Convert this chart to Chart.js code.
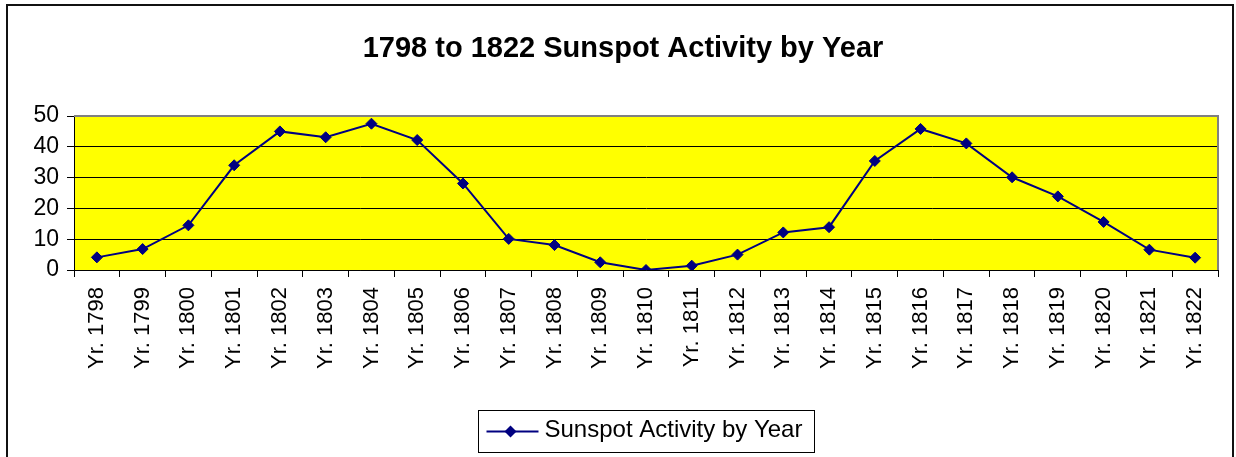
<!DOCTYPE html>
<html><head><meta charset="utf-8">
<script src="https://cdn.jsdelivr.net/npm/chart.js@4/dist/chart.umd.min.js"></script>
<style>html,body{margin:0;padding:0;background:#fff;}#wrap{width:1236px;height:457px;}</style>
</head><body><div id="wrap"><canvas id="c" width="1236" height="457"></canvas></div>
<script>
const categories = ['Yr. 1798','Yr. 1799','Yr. 1800','Yr. 1801','Yr. 1802','Yr. 1803','Yr. 1804','Yr. 1805','Yr. 1806','Yr. 1807','Yr. 1808','Yr. 1809','Yr. 1810','Yr. 1811','Yr. 1812','Yr. 1813','Yr. 1814','Yr. 1815','Yr. 1816','Yr. 1817','Yr. 1818','Yr. 1819','Yr. 1820','Yr. 1821','Yr. 1822'];
const sunspots = [4.1, 6.8, 14.5, 34.0, 45.0, 43.1, 47.5, 42.2, 28.1, 10.1, 8.1, 2.5, 0.0, 1.4, 5.0, 12.2, 13.9, 35.4, 45.8, 41.1, 30.1, 23.9, 15.6, 6.6, 4.0];
const yTicks = [0, 10, 20, 30, 40, 50];
const chartTitle = '1798 to 1822 Sunspot Activity by Year';
const seriesName = 'Sunspot Activity by Year';

const FONT = '"Liberation Sans", Arial, sans-serif';
const NAVY = '#000080';

const decor = {
  id: 'decor',
  beforeDraw(chart) {
    const {ctx, chartArea: a} = chart;
    ctx.save();
    ctx.fillStyle = '#fff';
    ctx.fillRect(0, 0, chart.width, chart.height);
    ctx.fillStyle = '#ffff00';
    ctx.fillRect(a.left, a.top, a.right - a.left, a.bottom - a.top);
    ctx.restore();
  },
  beforeDatasetsDraw(chart) {
    const {ctx, chartArea: a} = chart;
    ctx.save();
    ctx.strokeStyle = '#808080';
    ctx.lineWidth = 2;
    ctx.beginPath();
    ctx.moveTo(a.left, a.top);
    ctx.lineTo(a.right, a.top);
    ctx.lineTo(a.right, a.bottom);
    ctx.stroke();
    ctx.restore();
  },
  afterDraw(chart) {
    const {ctx, chartArea: a} = chart;
    ctx.save();
    // outer frame
    ctx.strokeStyle = '#111';
    ctx.lineWidth = 2;
    ctx.strokeRect(7, 5, 1226, 480);
    // title
    ctx.fillStyle = '#000';
    ctx.font = 'bold 29px ' + FONT;
    ctx.textAlign = 'center';
    ctx.textBaseline = 'alphabetic';
    ctx.fillText(chartTitle, 623, 57);
    // legend
    const cx = (a.left + a.right) / 2;
    const bw = 336, bh = 42;
    const bx = Math.round(cx - bw / 2) + 0.5, by = 410.5;
    ctx.strokeStyle = '#000';
    ctx.lineWidth = 1;
    ctx.strokeRect(bx, by, bw, bh);
    const ly = by + bh / 2;
    ctx.strokeStyle = NAVY;
    ctx.lineWidth = 2;
    ctx.beginPath();
    ctx.moveTo(bx + 8, ly);
    ctx.lineTo(bx + 60, ly);
    ctx.stroke();
    ctx.fillStyle = NAVY;
    ctx.beginPath();
    ctx.moveTo(bx + 32 - 6, ly); ctx.lineTo(bx + 32, ly - 6); ctx.lineTo(bx + 32 + 6, ly); ctx.lineTo(bx + 32, ly + 6); ctx.closePath();
    ctx.fill();
    ctx.fillStyle = '#000';
    ctx.font = '24px ' + FONT;
    ctx.textAlign = 'left';
    ctx.fillText(seriesName, bx + 66, 437);
    ctx.restore();
  }
};

new Chart(document.getElementById('c'), {
  type: 'line',
  data: {
    labels: categories,
    datasets: [{
      label: seriesName,
      data: sunspots,
      borderColor: NAVY,
      backgroundColor: NAVY,
      borderWidth: 2,
      tension: 0,
      fill: false,
      pointStyle: 'rectRot',
      pointRadius: 5.5,
      pointHoverRadius: 5.5,
      pointBackgroundColor: NAVY,
      pointBorderColor: NAVY,
      pointBorderWidth: 1
    }]
  },
  options: {
    responsive: false,
    animation: false,
    devicePixelRatio: 1,
    layout: {padding: {top: 116, right: 18, left: 0, bottom: 0}},
    plugins: {legend: {display: false}, title: {display: false}, tooltip: {enabled: false}},
    scales: {
      x: {
        type: 'category',
        offset: true,
        grid: {offset: true, drawOnChartArea: false, tickLength: 7, color: '#000', lineWidth: 1},
        border: {color: '#000', width: 1},
        ticks: {autoSkip: false, minRotation: 90, maxRotation: 90, padding: 10, color: '#000', font: {family: FONT, size: 22}},
        afterFit(s) { s.height = 187; }
      },
      y: {
        min: 0, max: 50,
        afterBuildTicks(s) { s.ticks = yTicks.map(v => ({value: v})); },
        grid: {
          tickLength: 7, lineWidth: 1,
          color: c => (c.tick && c.tick.value === 50) ? '#808080' : '#000',
          tickColor: '#000'
        },
        border: {color: '#000', width: 1},
        ticks: {padding: 8, color: '#000', font: {family: FONT, size: 23}},
        afterFit(s) { s.width = 74; }
      }
    }
  },
  plugins: [decor]
});
</script></body></html>
